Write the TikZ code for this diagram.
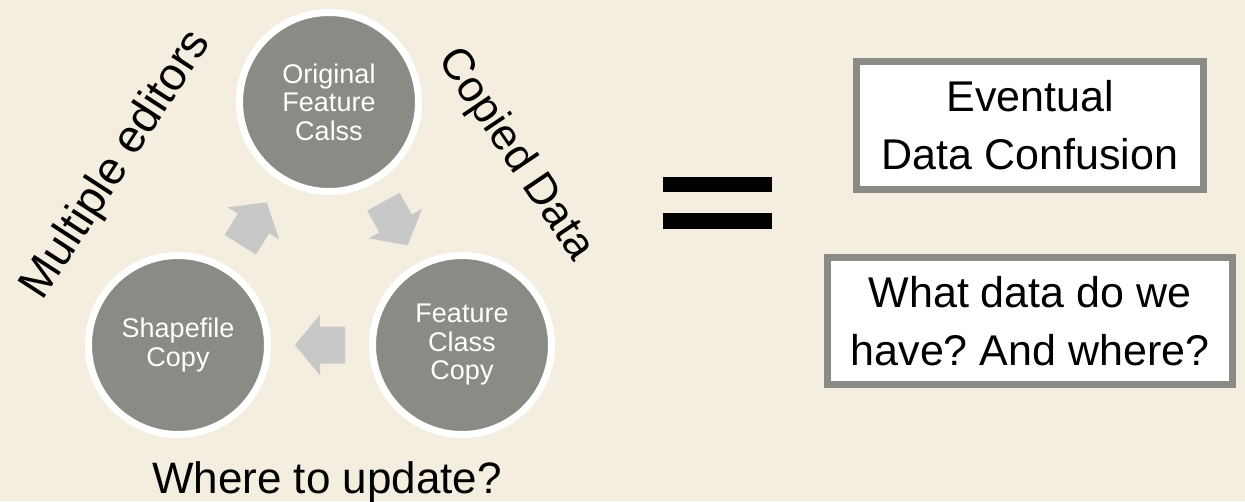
\documentclass[tikz,border=0pt]{standalone}
\usepackage{fontspec}
\setmainfont{Liberation Sans}
\usetikzlibrary{shapes.geometric, arrows}
\definecolor{bgcream}{RGB}{244,238,225}
\definecolor{circgray}{RGB}{138,139,132}
\definecolor{arrowgray}{RGB}{200,200,200}
\tikzstyle{stage} = [circle, minimum size=179pt, inner sep=0pt, draw=white, line width=7pt, fill=circgray, text=white, align=center, font=\fontsize{27}{28.5}\selectfont]
\tikzstyle{cyclearrow} = [fill=arrowgray]
\tikzstyle{outcome} = [rectangle, draw=circgray, line width=7pt, fill=white, align=center, inner sep=0pt, font=\fontsize{43}{58}\selectfont]
\tikzstyle{sidelabel} = [font=\fontsize{44}{48}\selectfont, inner sep=0pt]
\newcommand{\blockarrow}{(-25,-18.5) -- (0,-18.5) -- (0,-30.5) -- (25,0) -- (0,30.5) -- (0,18.5) -- (-25,18.5) -- cycle}
\frenchspacing

\begin{document}
\begin{tikzpicture}[x=1pt, y=-1pt]

\fill[bgcream] (0,0) rectangle (1245,501);
\useasboundingbox (0,0) rectangle (1245,501);

\node (orig) [stage] at (329,102) {Original\\Feature\\Calss};
\node (shp) [stage] at (178,345) {Shapefile\\Copy};
\node (fcc) [stage] at (462,345) {Feature\\Class\\Copy};

\path (orig) -- coordinate[midway] (m1) (fcc);
\path (fcc) -- coordinate[midway] (m2) (shp);
\path (shp) -- coordinate[midway] (m3) (orig);
\fill[cyclearrow, shift={(m1)}, rotate=-61] \blockarrow;
\fill[cyclearrow, shift={(m2)}, rotate=180] \blockarrow;
\fill[cyclearrow, shift={(m3)}, rotate=58] \blockarrow;

\node (editors) [sidelabel, font=\fontsize{46}{48}\selectfont, rotate=57] at (117,165) {Multiple editors};
\node (copied) [sidelabel, rotate=-56] at (515,155) {Copied Data};
\node (update) [sidelabel, anchor=base] at (327,493) {Where to update?};

\fill (663,177) rectangle (772,192);
\fill (663,213) rectangle (772,229);

\node (confusion) [outcome, minimum width=347pt, minimum height=128pt] at (1030,125.5) {Eventual\\Data Confusion};
\node (where) [outcome, minimum width=405pt, minimum height=127pt] at (1030,321) {What data do we\\have? And where?};

\end{tikzpicture}
\end{document}
